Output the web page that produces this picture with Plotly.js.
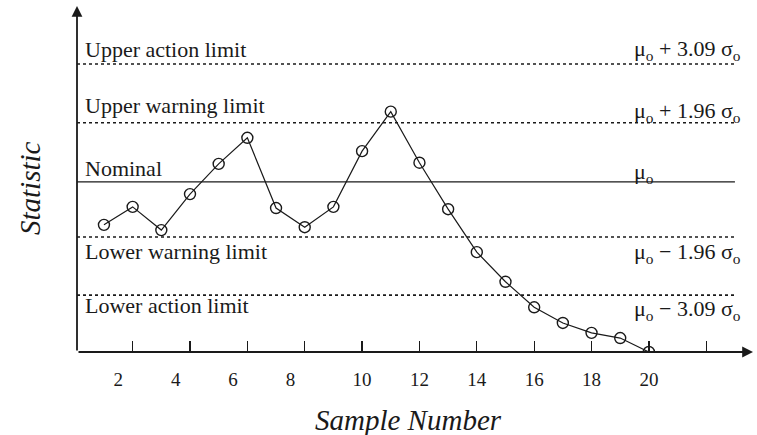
<!DOCTYPE html>
<html>
<head>
<meta charset="utf-8">
<script src="https://cdn.plot.ly/plotly-3.0.1.min.js"></script>
<style>html,body{margin:0;padding:0;background:#fff;}#chart{width:757px;height:435px;}</style>
</head>
<body>
<div id="chart"></div>
<script>
// Sample numbers and statistic values (schematic units: 1 unit = one limit band)
const sampleNumbers = [1,2,3,4,5,6,7,8,9,10,11,12,13,14,15,16,17,18,19,20];
const statisticValues = [-0.74,-0.43,-0.83,-0.21,0.31,0.76,-0.45,-0.78,-0.43,0.53,1.21,0.33,-0.47,-1.21,-1.72,-2.16,-2.43,-2.60,-2.69,-2.93];

// Control-limit levels
const limitNames = ["Upper action limit","Upper warning limit","Nominal","Lower warning limit","Lower action limit"];
const limitFormulas = ["μ<sub>o</sub> + 3.09 σ<sub>o</sub>","μ<sub>o</sub> + 1.96 σ<sub>o</sub>","μ<sub>o</sub>","μ<sub>o</sub> − 1.96 σ<sub>o</sub>","μ<sub>o</sub> − 3.09 σ<sub>o</sub>"];
const limitLevels = [2.03, 1.02, 0, -0.95, -1.95];
const limitDash = ["dot","dot","solid","dot","dot"];

// Axis ticks and labels
const tickMarks = [2,4,6,8,10,12,14,16,18,20,22];
const tickLabelPos = [1.5,3.5,5.5,7.5,10,12,14,16,18,20];
const tickLabelText = ["2","4","6","8","10","12","14","16","18","20"];

const xMin = 0.06, xMax = 23.63, yMin = -2.93, yMax = 3.03, limitEnd = 23.0;
const serif = '"Liberation Serif", "Times New Roman", serif';
const ink = '#1a1a1a';

const traces = [{
  x: sampleNumbers, y: statisticValues, type: 'scatter', mode: 'lines+markers',
  line: {color: ink, width: 1.2},
  marker: {symbol: 'circle-open', size: 11, color: ink, line: {width: 1.4, color: ink}},
  hoverinfo: 'x+y', showlegend: false
},{
  x: tickLabelPos, y: tickLabelPos.map(() => null), xaxis: 'x2', yaxis: 'y',
  type: 'scatter', mode: 'none', showlegend: false, hoverinfo: 'skip'
}];

const shapes = limitLevels.map((lv, i) => ({
  type: 'line', xref: 'x', yref: 'y', x0: xMin, x1: limitEnd, y0: lv, y1: lv,
  line: {color: ink, width: limitDash[i] === 'solid' ? 1.3 : 1.6, dash: limitDash[i]}
}));

const leftShift = [15, 17, 13, -14, -10];
const rightShift = [14, 11, 9, -16, -15];
const annotations = [];
limitNames.forEach((n, i) => {
  annotations.push({xref: 'x', yref: 'y', x: 0.27, y: limitLevels[i], xanchor: 'left', yanchor: 'middle',
    yshift: leftShift[i], text: n, showarrow: false, font: {family: serif, size: 22, color: ink}});
  annotations.push({xref: 'x', yref: 'y', x: 19.40, y: limitLevels[i], xanchor: 'left', yanchor: 'middle',
    yshift: rightShift[i], text: limitFormulas[i], showarrow: false, font: {family: serif, size: 22, color: ink}});
});
// axis arrows
annotations.push({xref: 'x', yref: 'y', axref: 'x', ayref: 'y', x: xMin, y: yMax, ax: xMin, ay: yMin,
  text: '', showarrow: true, arrowhead: 2, arrowsize: 1.2, arrowwidth: 1.8, arrowcolor: ink});
annotations.push({xref: 'x', yref: 'y', axref: 'x', ayref: 'y', x: xMax, y: yMin, ax: xMin, ay: yMin,
  text: '', showarrow: true, arrowhead: 2, arrowsize: 1.2, arrowwidth: 1.8, arrowcolor: ink});
// axis titles
annotations.push({xref: 'paper', yref: 'paper', x: -0.0695, y: 0.474, xanchor: 'center', yanchor: 'middle',
  text: 'Statistic', textangle: -90, showarrow: false, font: {family: serif, size: 29, style: 'italic', color: ink}});
annotations.push({xref: 'paper', yref: 'paper', x: 0.490, y: -0.197, xanchor: 'center', yanchor: 'middle',
  text: 'Sample Number', showarrow: false, font: {family: serif, size: 29, style: 'italic', color: ink}});

const layout = {
  width: 757, height: 435,
  margin: {l: 77, r: 4, t: 6, b: 83},
  paper_bgcolor: '#fff', plot_bgcolor: '#fff',
  showlegend: false,
  xaxis: {range: [xMin, xMax], tickmode: 'array', tickvals: tickMarks, ticks: 'inside', ticklen: 11,
    tickwidth: 1.3, tickcolor: ink, showticklabels: false, showgrid: false, zeroline: false, showline: false},
  xaxis2: {range: [xMin, xMax], overlaying: 'x', anchor: 'y', side: 'bottom', tickmode: 'array',
    tickvals: tickLabelPos, ticktext: tickLabelText, ticks: '', showgrid: false, zeroline: false, showline: false,
    ticklabelstandoff: 14, tickfont: {family: serif, size: 19, color: ink}},
  yaxis: {range: [yMin, yMax], showgrid: false, zeroline: false, showticklabels: false, ticks: '', showline: false},
  shapes: shapes,
  annotations: annotations
};

Plotly.newPlot('chart', traces, layout, {staticPlot: true, displayModeBar: false});
</script>
</body>
</html>
